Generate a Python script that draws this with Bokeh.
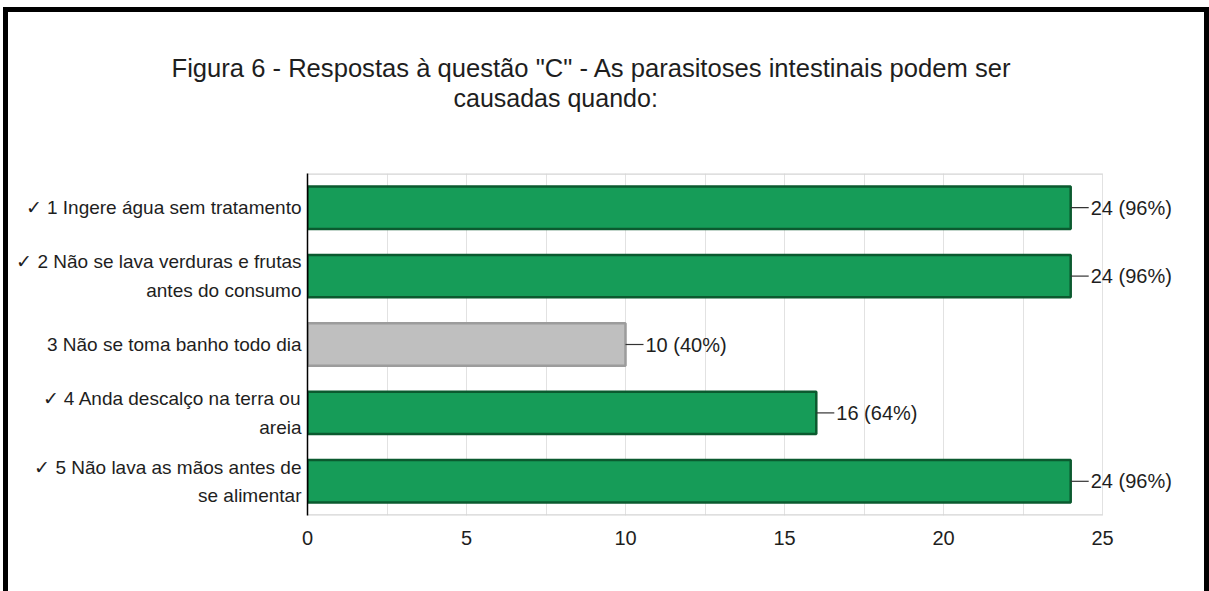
from bokeh.plotting import figure
from bokeh.layouts import column
from bokeh.models import (Range1d, ColumnDataSource, Label, Title,
                          SingleIntervalTicker, FixedTicker)
from bokeh.embed import file_html
from bokeh.resources import INLINE

# ---- data ----
title_line1 = 'Figura 6 - Respostas à questão "C" - As parasitoses intestinais podem ser'
title_line2 = 'causadas quando:'
category_labels = [
    "✓ 1 Ingere água sem tratamento",
    "✓ 2 Não se lava verduras e frutas\nantes do consumo",
    "3 Não se toma banho todo dia",
    "✓ 4 Anda descalço na terra ou\nareia",
    "✓ 5 Não lava as mãos antes de\nse alimentar",
]
counts = [24, 24, 10, 16, 24]
percents = [96, 96, 40, 64, 96]
x_max = 25
x_tick_interval = 5

# ---- style / layout ----
FONT = "Liberation Sans"
GREEN = "#169c58"
GREEN_LINE = "#0b5a2f"
GRAY = "#bfbfbf"
GRAY_LINE = "#9c9c9c"
TXT = "#1e1e1e"
GRID = "#e2e2e2"

W = 1196                 # width inside the black frame (page offset x=8, y=12)
TITLE_H = 161            # height of the title band
CHART_H = 418            # height of the chart band
FRAME_L = 299            # canvas x of the value axis origin
PLOT_H = 342             # height of the bar area
PLOT_R = 1094            # canvas x of x_max

n = len(category_labels)
ypos = list(range(n, 0, -1))          # first category at the top
unit_x = (PLOT_R - FRAME_L) / x_max
fills = [GREEN if lab.startswith("✓") else GRAY for lab in category_labels]
lines = [GREEN_LINE if lab.startswith("✓") else GRAY_LINE for lab in category_labels]
texts = [f"{c} ({p}%)" for c, p in zip(counts, percents)]

src = ColumnDataSource(dict(
    y=ypos, count=counts, fill=fills, line=lines,
    tip=[c + 18 / unit_x for c in counts],
))

# ---- title band (titles sit in its "above" panel; its empty frame is a spacer) ----
t = figure(width=W, height=TITLE_H, output_backend="svg", toolbar_location=None, title=None,
           x_range=Range1d(0, 1), y_range=Range1d(0, 1),
           x_axis_location=None, y_axis_location=None,
           min_border_left=0, min_border_right=0, min_border_top=99, min_border_bottom=0)
t.outline_line_color = None
t.background_fill_color = None
for g in t.grid:
    g.visible = False
t.add_layout(Title(text=title_line2, align="left", offset=445 - FRAME_L,
                   vertical_align="bottom", standoff=0,
                   text_font=FONT, text_font_size="25px", text_font_style="normal",
                   text_color=TXT), "above")
t.add_layout(Title(text=title_line1, align="left", offset=163 - FRAME_L,
                   vertical_align="bottom", standoff=0,
                   text_font=FONT, text_font_size="25.6px", text_font_style="normal",
                   text_color=TXT), "above")

# ---- chart band ----
p = figure(width=W, height=CHART_H, output_backend="svg", toolbar_location=None, title=None,
           y_range=Range1d(0.5, n + 0.5), x_range=Range1d(0, (W - FRAME_L) / unit_x),
           min_border_left=FRAME_L, min_border_right=0, min_border_top=0,
           min_border_bottom=CHART_H - PLOT_H)
p.background_fill_color = "white"
p.border_fill_color = "white"
p.outline_line_color = None

# light frame of the bar area (top and bottom edges)
p.segment(x0=[0, 0], x1=[x_max, x_max], y0=[0.5, n + 0.5], y1=[0.5, n + 0.5],
          line_color="#d4d4d4", line_width=2.5)

# bars and leader lines
p.hbar(y="y", left=0, right="count", height=0.62, source=src,
       fill_color="fill", line_color="line", line_width=2.5)
p.segment(x0="count", x1="tip", y0="y", y1="y", source=src,
          line_color="#333333", line_width=1.2)

for c, yv, txt in zip(counts, ypos, texts):
    p.add_layout(Label(x=c, y=yv, text=txt, x_offset=20,
                       text_baseline="middle", text_align="left",
                       text_font=FONT, text_font_size="20px", text_color=TXT))

# axes
p.xaxis.ticker = SingleIntervalTicker(interval=x_tick_interval, num_minor_ticks=2)
p.xaxis.axis_line_color = None
p.xaxis.major_tick_line_color = None
p.xaxis.minor_tick_line_color = None
p.xaxis.major_label_standoff = 9
p.xaxis.major_label_text_font = FONT
p.xaxis.major_label_text_font_size = "20px"
p.xaxis.major_label_text_color = TXT

p.yaxis.ticker = FixedTicker(ticks=ypos)
p.yaxis.major_label_overrides = {yv: lab for yv, lab in zip(ypos, category_labels)}
p.yaxis.axis_line_color = "black"
p.yaxis.axis_line_width = 1.5
p.yaxis.major_tick_line_color = None
p.yaxis.minor_tick_line_color = None
p.yaxis.major_label_standoff = 0
p.yaxis.major_label_text_font = FONT
p.yaxis.major_label_text_font_size = "19px"
p.yaxis.major_label_text_color = TXT
p.yaxis.major_label_text_line_height = 1.36

p.xgrid.bounds = (0, x_max)
p.xgrid.grid_line_color = GRID
p.xgrid.minor_grid_line_color = GRID
p.ygrid.grid_line_color = None

page = column(t, p, spacing=0)
page.margin = (12, 0, 0, 8)
page.styles = {"outline": "5px solid black"}

open("out.html", "w").write(file_html(page, INLINE))
